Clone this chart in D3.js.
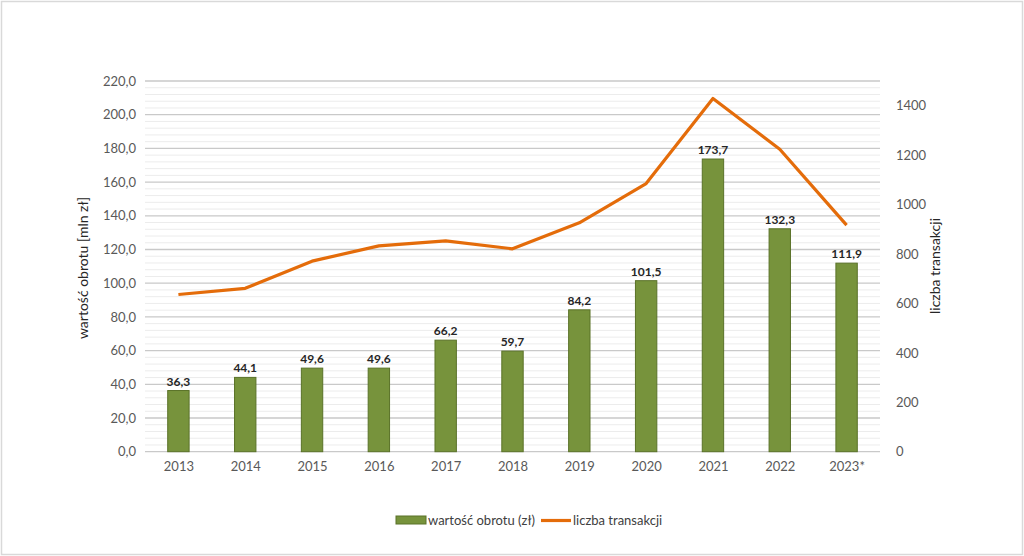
<!DOCTYPE html>
<html>
<head>
<meta charset="utf-8">
<script src="https://cdn.jsdelivr.net/npm/d3@7"></script>
<style>
html,body{margin:0;padding:0;background:#fff;}
svg{display:block;}
text{font-family:Lato,"Open Sans",sans-serif;}
</style>
</head>
<body>
<script>
const categories = ["2013","2014","2015","2016","2017","2018","2019","2020","2021","2022","2023*"];
const turnover = [36.3,44.1,49.6,49.6,66.2,59.7,84.2,101.5,173.7,132.3,111.9];
const transactions = [636,661,771,833,853,821,926,1085,1429,1224,917];
const leftTicks = [0,20,40,60,80,100,120,140,160,180,200,220];
const rightTicks = [0,200,400,600,800,1000,1200,1400];
const seriesNames = ["wartość obrotu (zł)","liczba transakcji"];
const axisTitles = ["wartość obrotu [mln zł]","liczba transakcji"];

const W=1024,H=556;
const m={l:145,r:880,t:81,b:451.7};
const svg=d3.select("body").append("svg").attr("width",W).attr("height",H);
svg.append("rect").attr("x",1.5).attr("y",1.5).attr("width",W-3).attr("height",H-3)
  .attr("fill","#fff").attr("stroke","#d9d9d9").attr("stroke-width",1.5);

const x=d3.scaleBand().domain(categories).range([m.l,m.r]).paddingInner(0.68).paddingOuter(0.34);
const xc=d3.scalePoint().domain(categories).range([m.l,m.r]).padding(0.5);
const yL=d3.scaleLinear().domain([0,220]).range([m.b,m.t]);
const yR=d3.scaleLinear().domain([0,1500]).range([m.b,m.t]);

// minor gridlines
const minor=d3.range(0,221,4).filter(v=>v%20!==0);
svg.append("g").selectAll("line").data(minor).join("line")
  .attr("x1",m.l).attr("x2",m.r).attr("y1",d=>yL(d)).attr("y2",d=>yL(d))
  .attr("stroke","#ececec").attr("stroke-width",1);
// major gridlines
svg.append("g").selectAll("line").data(leftTicks).join("line")
  .attr("x1",m.l).attr("x2",m.r).attr("y1",d=>yL(d)).attr("y2",d=>yL(d))
  .attr("stroke","#c9c9c9").attr("stroke-width",1.3);

// left axis
const fmt=v=>d3.format(".1f")(v).replace(".",",");
const gl=svg.append("g").attr("transform",`translate(${m.l},0)`)
  .call(d3.axisLeft(yL).tickValues(leftTicks).tickFormat(fmt).tickSize(0).tickPadding(9));
gl.select(".domain").remove();
gl.selectAll("text").attr("font-size",13).attr("fill","#595959").attr("font-family","Lato,sans-serif");

// right axis
const gr=svg.append("g").attr("transform",`translate(${m.r},0)`)
  .call(d3.axisRight(yR).tickValues(rightTicks).tickFormat(d3.format("d")).tickSize(0).tickPadding(16));
gr.select(".domain").remove();
gr.selectAll("text").attr("font-size",13).attr("fill","#595959").attr("font-family","Lato,sans-serif");

// bottom axis
const gb=svg.append("g").attr("transform",`translate(0,${m.b})`)
  .call(d3.axisBottom(xc).tickSize(0).tickPadding(10));
gb.select(".domain").remove();
gb.selectAll("text").attr("font-size",13).attr("fill","#595959").attr("font-family","Lato,sans-serif");

// bars
svg.append("g").selectAll("rect").data(turnover).join("rect")
  .attr("x",(d,i)=>x(categories[i])).attr("width",x.bandwidth())
  .attr("y",d=>yL(d)).attr("height",d=>yL(0)-yL(d))
  .attr("fill","#77933c").attr("stroke","#5a7228").attr("stroke-width",1);

// bar labels
svg.append("g").selectAll("text").data(turnover).join("text")
  .attr("x",(d,i)=>xc(categories[i])).attr("y",d=>yL(d)-5)
  .attr("text-anchor","middle").attr("font-size",12).attr("font-weight","bold")
  .attr("fill","#262626").text(d=>fmt(d));

// line
svg.append("path").datum(transactions)
  .attr("d",d3.line().x((d,i)=>xc(categories[i])).y(d=>yR(d)))
  .attr("fill","none").attr("stroke","#e46c0a").attr("stroke-width",3.2)
  .attr("stroke-linejoin","round");

// axis titles
svg.append("text").attr("transform","translate(88,268) rotate(-90)")
  .attr("text-anchor","middle").attr("font-size",14).attr("fill","#262626").text(axisTitles[0]);
svg.append("text").attr("transform","translate(940,266) rotate(-90)")
  .attr("text-anchor","middle").attr("font-size",14).attr("fill","#262626").text(axisTitles[1]);

// legend
const lg=svg.append("g");
lg.append("rect").attr("x",396).attr("y",516).attr("width",30).attr("height",8)
  .attr("fill","#77933c").attr("stroke","#5a7228").attr("stroke-width",1);
lg.append("text").attr("x",428).attr("y",525).attr("font-size",13).attr("fill","#404040").text(seriesNames[0]);
lg.append("line").attr("x1",541).attr("x2",571).attr("y1",520.5).attr("y2",520.5)
  .attr("stroke","#e46c0a").attr("stroke-width",3.2);
lg.append("text").attr("x",573).attr("y",525).attr("font-size",13).attr("fill","#404040").text(seriesNames[1]);
</script>
</body>
</html>
